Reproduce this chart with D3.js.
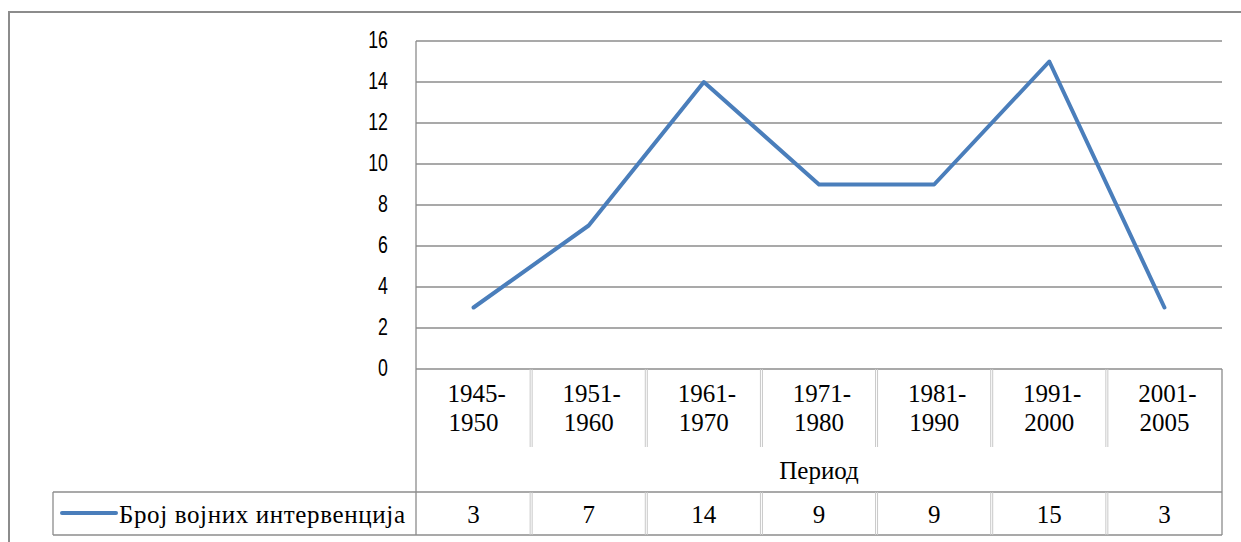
<!DOCTYPE html>
<html>
<head>
<meta charset="utf-8">
<script src="https://cdn.jsdelivr.net/npm/d3@7"></script>
</head>
<body style="margin:0;background:#fff">
<svg id="chart" width="1241" height="542" style="display:block"></svg>
<script>
// Categories (periods) and values
const periods = ["1945-1950", "1951-1960", "1961-1970", "1971-1980", "1981-1990", "1991-2000", "2001-2005"];
const interventions = [3, 7, 14, 9, 9, 15, 3];
const yTicks = [0, 2, 4, 6, 8, 10, 12, 14, 16];
const seriesName = "Број војних интервенција";
const axisTitle = "Период";

const svg = d3.select("#chart");
const lineColor = "#4a7ebb";
const gridColor = "#8c8c8c";
const sepColor = "#c8c8c8";
const serif = '"Liberation Serif"';
const sans = '"Liberation Sans"';
const serifSize = "25px";

// outer chart frame (runs past the right and bottom edge)
svg.append("rect")
  .attr("x", 9).attr("y", 12)
  .attr("width", 1250).attr("height", 560)
  .attr("fill", "none").attr("stroke", gridColor).attr("stroke-width", 2);

// plot area
const plotL = 416, plotR = 1222, plotT = 41, plotB = 369;
const x = d3.scaleBand().domain(periods).range([plotL, plotR]);
const y = d3.scaleLinear().domain([0, 16]).range([plotB, plotT]);

// horizontal gridlines
svg.append("g").selectAll("line")
  .data(yTicks.filter(d => d > 0))
  .join("line")
    .attr("x1", plotL).attr("x2", plotR)
    .attr("y1", d => y(d)).attr("y2", d => y(d))
    .attr("stroke", gridColor).attr("stroke-width", 1.3);

// y axis labels (narrow, tall glyphs like the original)
svg.append("g").selectAll("text")
  .data(yTicks)
  .join("text")
    .attr("transform", d => `translate(388,${y(d) + 7}) scale(0.74,1)`)
    .attr("text-anchor", "end")
    .style("font-family", sans)
    .style("font-size", "24px")
    .text(d => d);

// table rows
const rowCatBottom = 447, rowTitleBottom = 492, rowDataBottom = 535;
const tableLines = svg.append("g").attr("stroke", gridColor).attr("stroke-width", 1.3);
// axis line / table top
tableLines.append("line").attr("x1", plotL).attr("x2", plotR).attr("y1", plotB).attr("y2", plotB);
// data row top
tableLines.append("line").attr("x1", 53).attr("x2", plotR).attr("y1", rowTitleBottom).attr("y2", rowTitleBottom);
// data row bottom
tableLines.append("line").attr("x1", 53).attr("x2", plotR).attr("y1", rowDataBottom).attr("y2", rowDataBottom);
// left axis line
tableLines.append("line").attr("x1", plotL).attr("x2", plotL).attr("y1", plotT).attr("y2", rowDataBottom);
// right border of table
tableLines.append("line").attr("x1", plotR).attr("x2", plotR).attr("y1", plotB).attr("y2", rowDataBottom);
// legend cell left border
tableLines.append("line").attr("x1", 53).attr("x2", 53).attr("y1", rowTitleBottom).attr("y2", rowDataBottom);

// category separators (double light lines)
const seps = periods.slice(1).map(p => x(p));
[-1, 1].forEach(off => {
  svg.append("g").selectAll("line")
    .data(seps)
    .join("line")
      .attr("x1", d => d + off).attr("x2", d => d + off)
      .attr("y1", plotB).attr("y2", rowCatBottom)
      .attr("stroke", sepColor).attr("stroke-width", 1);
  svg.append("g").selectAll("line")
    .data(seps)
    .join("line")
      .attr("x1", d => d + off).attr("x2", d => d + off)
      .attr("y1", rowTitleBottom).attr("y2", rowDataBottom)
      .attr("stroke", sepColor).attr("stroke-width", 1);
});

// category labels (two lines)
const cat = svg.append("g").selectAll("text")
  .data(periods)
  .join("text")
    .attr("text-anchor", "middle")
    .style("font-family", serif)
    .style("font-size", serifSize);
cat.append("tspan")
  .attr("x", d => x(d) + x.bandwidth() / 2 + 3)
  .attr("y", 402)
  .text(d => d.split("-")[0] + "-");
cat.append("tspan")
  .attr("x", d => x(d) + x.bandwidth() / 2)
  .attr("y", 431)
  .text(d => d.split("-")[1]);

// axis title
svg.append("text")
  .attr("x", (plotL + plotR) / 2)
  .attr("y", 479)
  .attr("text-anchor", "middle")
  .style("font-family", serif)
  .style("font-size", serifSize)
  .text(axisTitle);

// data values row
svg.append("g").selectAll("text")
  .data(periods)
  .join("text")
    .attr("x", d => x(d) + x.bandwidth() / 2)
    .attr("y", 523)
    .attr("text-anchor", "middle")
    .style("font-family", serif)
    .style("font-size", serifSize)
    .text((d, i) => interventions[i]);

// legend key
svg.append("line")
  .attr("x1", 62).attr("x2", 116)
  .attr("y1", 513).attr("y2", 513)
  .attr("stroke", lineColor).attr("stroke-width", 4)
  .attr("stroke-linecap", "round");
svg.append("text")
  .attr("x", 119).attr("y", 523)
  .attr("textLength", 286)
  .attr("lengthAdjust", "spacing")
  .style("font-family", serif)
  .style("font-size", serifSize)
  .text(seriesName);

// series line
const line = d3.line()
  .x((d, i) => x(periods[i]) + x.bandwidth() / 2)
  .y(d => y(d));
svg.append("path")
  .datum(interventions)
  .attr("d", line)
  .attr("fill", "none")
  .attr("stroke", lineColor)
  .attr("stroke-width", 4)
  .attr("stroke-linejoin", "round")
  .attr("stroke-linecap", "round");
</script>
</body>
</html>
